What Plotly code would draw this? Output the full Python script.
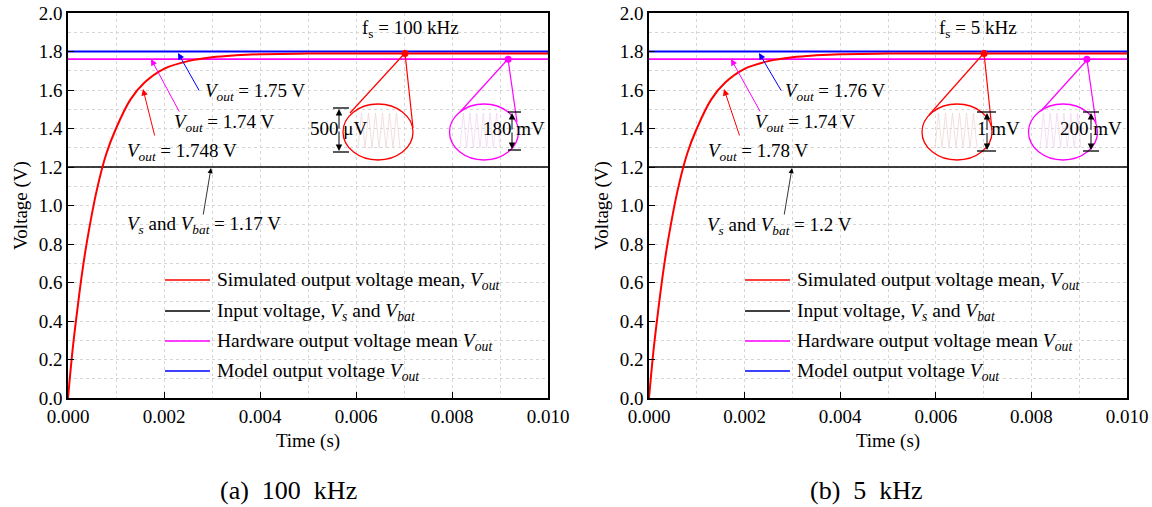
import plotly.graph_objects as go

# ---------------- data ----------------
t_sim = [0, 0.0001, 0.0002, 0.0003, 0.0004, 0.0006, 0.0008, 0.001, 0.0013, 0.0016,
         0.002, 0.0025, 0.003, 0.0035, 0.004, 0.005, 0.006, 0.007, 0.008, 0.009, 0.01]
v_sim_a = [0, 0.26, 0.47, 0.66, 0.82, 1.08, 1.27, 1.40, 1.55, 1.64,
           1.71, 1.75, 1.77, 1.78, 1.786, 1.789, 1.79, 1.79, 1.79, 1.79, 1.79]
v_sim_b = [0, 0.26, 0.47, 0.66, 0.82, 1.08, 1.27, 1.40, 1.55, 1.64,
           1.71, 1.75, 1.77, 1.78, 1.786, 1.789, 1.79, 1.79, 1.79, 1.79, 1.79]
t_span = [0.0, 0.01]
v_input_a = [1.2, 1.2]
v_input_b = [1.2, 1.2]
v_hw_a = [1.76, 1.76]
v_hw_b = [1.76, 1.76]
v_model_a = [1.8, 1.8]
v_model_b = [1.8, 1.8]
zoom_t_sim = {"a": 0.00702, "b": 0.00701}
zoom_v_sim = {"a": 1.79, "b": 1.79}
zoom_t_hw = {"a": 0.00917, "b": 0.00916}
zoom_v_hw = {"a": 1.76, "b": 1.76}

x_ticks = [0.0, 0.002, 0.004, 0.006, 0.008, 0.010]
y_ticks = [0.0, 0.2, 0.4, 0.6, 0.8, 1.0, 1.2, 1.4, 1.6, 1.8, 2.0]

legend_labels = [
    "Simulated output voltage mean, <i>V</i><sub><i>out</i></sub>",
    "Input voltage, <i>V</i><sub><i>s</i></sub> and <i>V</i><sub><i>bat</i></sub>",
    "Hardware output voltage mean <i>V</i><sub><i>out</i></sub>",
    "Model output voltage <i>V</i><sub><i>out</i></sub>",
]
legend_colors = ["#ff0000", "#000000", "#ff00ff", "#0000ff"]

labels_a = {"model": "1.75 V", "hw": "1.74 V", "sim": "1.748 V", "in": "1.17 V",
            "fs": "100 kHz", "rip_sim": "500 μV", "rip_hw": "180 mV", "cap": "(a)  100  kHz"}
labels_b = {"model": "1.76 V", "hw": "1.74 V", "sim": "1.78 V", "in": "1.2 V",
            "fs": "5 kHz", "rip_sim": "1 mV", "rip_hw": "200 mV", "cap": "(b)  5  kHz"}

# ---------------- layout geometry ----------------
W, H = 1152, 507
PL, PR, PT, PB = 68, 1127, 13, 398
X0 = {"a": 68, "b": 649}
X1 = {"a": 548, "b": 1127}
FONT = "Liberation Serif"

def dx(px, s):
    return (px - X0[s]) / (X1[s] - X0[s]) * 0.01

def dy(py):
    return (PB - py) / (PB - PT) * 2.0

def py2paper(py):
    return (PB - py) / (PB - PT)

def px2paper(px):
    return (px - PL) / (PR - PL)

fig = go.Figure()

RED, BLK, MAG, BLU = "#ff0000", "#000000", "#ff00ff", "#0000ff"

for s, xa, ya, vs, vi, vh, vm in [("a", "x", "y", v_sim_a, v_input_a, v_hw_a, v_model_a),
                                   ("b", "x2", "y2", v_sim_b, v_input_b, v_hw_b, v_model_b)]:
    fig.add_trace(go.Scatter(x=t_span, y=vi, mode="lines", line=dict(color=BLK, width=1.6),
                             xaxis=xa, yaxis=ya, showlegend=False))
    fig.add_trace(go.Scatter(x=t_span, y=vh, mode="lines", line=dict(color=MAG, width=1.8),
                             xaxis=xa, yaxis=ya, showlegend=False))
    fig.add_trace(go.Scatter(x=t_span, y=vm, mode="lines", line=dict(color=BLU, width=1.8),
                             xaxis=xa, yaxis=ya, showlegend=False))
    fig.add_trace(go.Scatter(x=t_sim, y=vs, mode="lines", line=dict(color=RED, width=2, shape="spline"),
                             xaxis=xa, yaxis=ya, showlegend=False))
    fig.add_trace(go.Scatter(x=[zoom_t_sim[s]], y=[zoom_v_sim[s]], mode="markers",
                             marker=dict(color=RED, size=7), xaxis=xa, yaxis=ya, showlegend=False))
    fig.add_trace(go.Scatter(x=[zoom_t_hw[s]], y=[zoom_v_hw[s]], mode="markers",
                             marker=dict(color=MAG, size=7), xaxis=xa, yaxis=ya, showlegend=False))

shapes = []
annotations = []

def txt(s, px, py, text, xanchor="left", size=19, color="black"):
    xr = "x" if s == "a" else "x2"
    yr = "y" if s == "a" else "y2"
    annotations.append(dict(x=dx(px, s), y=dy(py), xref=xr, yref=yr, text=text, showarrow=False,
                            xanchor=xanchor, yanchor="middle",
                            font=dict(family=FONT, size=size, color=color)))

def arrow(s, tail, tip, color, width=1):
    xr = "x" if s == "a" else "x2"
    yr = "y" if s == "a" else "y2"
    annotations.append(dict(x=dx(tip[0], s), y=dy(tip[1]), ax=dx(tail[0], s), ay=dy(tail[1]),
                            xref=xr, yref=yr, axref=xr, ayref=yr, text="", showarrow=True,
                            arrowhead=2, arrowsize=1.3, arrowwidth=width, arrowcolor=color,
                            standoff=0, startstandoff=0))

def line(s, p0, p1, color, width=1):
    xr = "x" if s == "a" else "x2"
    yr = "y" if s == "a" else "y2"
    shapes.append(dict(type="line", xref=xr, yref=yr, x0=dx(p0[0], s), y0=dy(p0[1]),
                       x1=dx(p1[0], s), y1=dy(p1[1]), line=dict(color=color, width=width)))

def ellipse(s, c, rx, ry, color):
    xr = "x" if s == "a" else "x2"
    yr = "y" if s == "a" else "y2"
    shapes.append(dict(type="circle", xref=xr, yref=yr, x0=dx(c[0] - rx, s), x1=dx(c[0] + rx, s),
                       y0=dy(c[1] + ry), y1=dy(c[1] - ry), line=dict(color=color, width=1.3),
                       fillcolor="rgba(0,0,0,0)"))

def zigzag(s, xl, xr_, ytop, ybot, n, color):
    xr = "x" if s == "a" else "x2"
    yr = "y" if s == "a" else "y2"
    step = (xr_ - xl) / (2 * n)
    pts = []
    for i in range(2 * n + 1):
        px = xl + i * step
        py = ybot if i % 2 == 0 else ytop
        pts.append((dx(px, s), dy(py)))
    path = "M " + " L ".join(f"{a},{b}" for a, b in pts)
    shapes.append(dict(type="path", xref=xr, yref=yr, path=path, line=dict(color=color, width=0.7)))

def dim(s, xbar0, xbar1, xv, ytop, ybot):
    line(s, (xbar0, ytop), (xbar1, ytop), BLK, 1.3)
    line(s, (xbar0, ybot), (xbar1, ybot), BLK, 1.3)
    arrow(s, (xv, (ytop + ybot) / 2), (xv, ytop + 1), BLK, 1)
    arrow(s, (xv, (ytop + ybot) / 2), (xv, ybot - 1), BLK, 1)

SUBSHIFT = 0
VOUT = "<i>V</i><sub><i>out</i></sub> = "
for s, lab, g in [("a", labels_a, dict(
        model_t=(203, 92), model_a=((200, 92), (178, 53)),
        hw_t=(172, 123), hw_a=((180, 113), (151, 59)),
        sim_t=(125, 152), sim_a=((155, 137), (143, 89)),
        in_t=(125, 225), in_a=((203, 216), (211, 168)),
        fs=(410, 29), rs_t=(338, 128), rh_t=(514, 128),
        e1=(378, 132), d1=(405, 53), l1=((350, 113), (413, 128)), z1=(358, 400),
        e2=(484, 132), d2=(508, 59), l2=((460, 112), (517, 122)), z2=(460, 500),
        dim1=(333, 349, 339, 108, 152), dim2=(508, 521, 512, 112, 150),
        leg_x=(165, 210, 215), cap=288)),
        ("b", labels_b, dict(
        model_t=(783, 92), model_a=((782, 92), (759, 53)),
        hw_t=(753, 123), hw_a=((761, 113), (731, 59)),
        sim_t=(706, 152), sim_a=((740, 137), (724, 89)),
        in_t=(705, 226), in_a=((784, 216), (792, 168)),
        fs=(978, 29), rs_t=(998, 128), rh_t=(1091, 128),
        e1=(957, 132), d1=(984, 53), l1=((929, 115), (992, 130)), z1=(935, 977),
        e2=(1063, 132), d2=(1087, 60), l2=((1041, 111), (1096, 123)), z2=(1040, 1081),
        dim1=(977, 996, 987, 112, 151), dim2=(1083, 1099, 1091, 112, 151),
        leg_x=(745, 790, 795), cap=866))]:
    # zoom ellipses
    zigzag(s, g["z1"][0], g["z1"][1], 113, 148, 6, "#edd3d3")
    zigzag(s, g["z2"][0], g["z2"][1], 113, 148, 6, "#efd3ef")
    ellipse(s, g["e1"], 35, 28, RED)
    ellipse(s, g["e2"], 34.5, 28, MAG)
    line(s, g["d1"], g["l1"][0], RED, 1.2)
    line(s, g["d1"], g["l1"][1], RED, 1.2)
    line(s, g["d2"], g["l2"][0], MAG, 1.2)
    line(s, g["d2"], g["l2"][1], MAG, 1.2)
    d = g["dim1"]; dim(s, d[0], d[1], d[2], d[3], d[4])
    d = g["dim2"]; dim(s, d[0], d[1], d[2], d[3], d[4])
    # labels
    txt(s, g["model_t"][0], g["model_t"][1] + SUBSHIFT, VOUT + lab["model"])
    arrow(s, g["model_a"][0], g["model_a"][1], BLU)
    txt(s, g["hw_t"][0], g["hw_t"][1] + SUBSHIFT, VOUT + lab["hw"])
    arrow(s, g["hw_a"][0], g["hw_a"][1], MAG)
    txt(s, g["sim_t"][0], g["sim_t"][1] + SUBSHIFT, VOUT + lab["sim"])
    arrow(s, g["sim_a"][0], g["sim_a"][1], RED)
    txt(s, g["in_t"][0], g["in_t"][1] + SUBSHIFT,
        "<i>V</i><sub><i>s</i></sub> and <i>V</i><sub><i>bat</i></sub> = " + lab["in"])
    arrow(s, g["in_a"][0], g["in_a"][1], BLK, 0.8)
    txt(s, g["fs"][0], g["fs"][1] + SUBSHIFT, "f<sub>s</sub> = " + lab["fs"], xanchor="center")
    txt(s, g["rs_t"][0], g["rs_t"][1], lab["rip_sim"], xanchor="center")
    txt(s, g["rh_t"][0], g["rh_t"][1], lab["rip_hw"], xanchor="center")
    # legend (drawn)
    lx0, lx1, ltx = g["leg_x"]
    for i, (lbl, col) in enumerate(zip(legend_labels, legend_colors)):
        ry = [280, 311, 341, 371][i]
        line(s, (lx0, ry), (lx1, ry), col, 1.5)
        txt(s, ltx, ry + 1, lbl, size=19.5)
    # caption
    annotations.append(dict(x=px2paper(g["cap"]), y=py2paper(490), xref="paper", yref="paper",
                            text=lab["cap"], showarrow=False, xanchor="center", yanchor="middle",
                            font=dict(family=FONT, size=26, color="black")))

axis_common = dict(
    showline=True, linecolor="black", linewidth=1.5, mirror=True, automargin=False,
    ticks="inside", ticklen=6, tickwidth=1.3, tickcolor="black",
    showgrid=True, gridcolor="#d6d6d6", griddash="dot", gridwidth=1,
    zeroline=False, tickfont=dict(family=FONT, size=19, color="black"),
)

xdom_a = [0, (X1["a"] - PL) / (PR - PL)]
xdom_b = [(X0["b"] - PL) / (PR - PL), 1]

fig.update_layout(
    width=W, height=H, margin=dict(l=PL, r=W - PR, t=PT, b=H - PB, autoexpand=False),
    paper_bgcolor="white", plot_bgcolor="white", showlegend=False,
    xaxis=dict(domain=xdom_a, range=[0, 0.01], tickvals=x_ticks, tickformat=".3f", anchor="y",
               minor=dict(dtick=0.001, showgrid=True, gridcolor="#d6d6d6", griddash="dot"),
               title=dict(text="Time (s)", font=dict(family=FONT, size=19, color="black"), standoff=8),
               **axis_common),
    yaxis=dict(domain=[0, 1], range=[0, 2], tickvals=y_ticks, tickformat=".1f", anchor="x",
               minor=dict(dtick=0.1, showgrid=True, gridcolor="#d6d6d6", griddash="dot"),
               title=dict(text="Voltage (V)", font=dict(family=FONT, size=19, color="black"), standoff=6),
               **axis_common),
    xaxis2=dict(domain=xdom_b, range=[0, 0.01], tickvals=x_ticks, tickformat=".3f", anchor="y2",
                minor=dict(dtick=0.001, showgrid=True, gridcolor="#d6d6d6", griddash="dot"),
                title=dict(text="Time (s)", font=dict(family=FONT, size=19, color="black"), standoff=8),
                **axis_common),
    yaxis2=dict(domain=[0, 1], range=[0, 2], tickvals=y_ticks, tickformat=".1f", anchor="x2",
                minor=dict(dtick=0.1, showgrid=True, gridcolor="#d6d6d6", griddash="dot"),
                title=dict(text="Voltage (V)", font=dict(family=FONT, size=19, color="black"), standoff=6),
                **axis_common),
    shapes=shapes, annotations=annotations,
)

fig.write_html("out.html")
